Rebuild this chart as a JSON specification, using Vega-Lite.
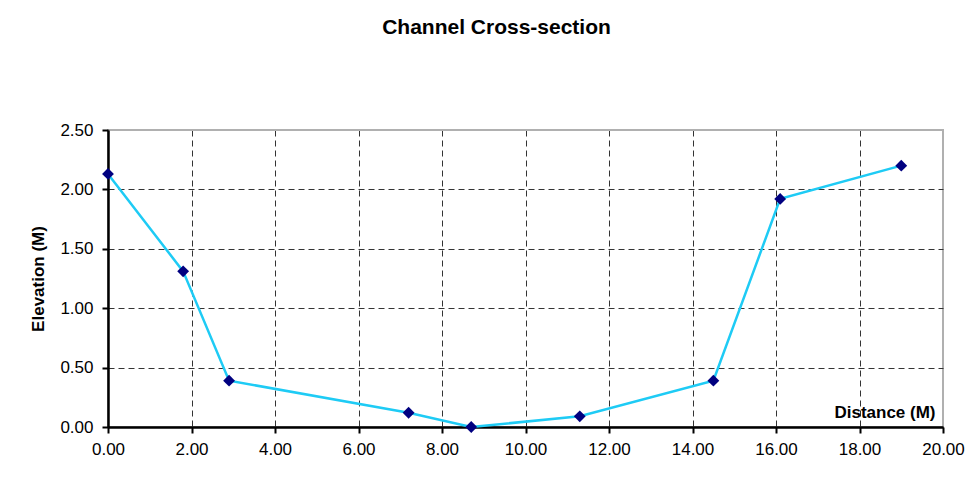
{
  "$schema": "https://vega.github.io/schema/vega-lite/v6.json",
  "autosize": {"type": "none"},
  "width": 835,
  "height": 297,
  "padding": {"left": 108, "top": 130, "right": 37, "bottom": 73},
  "background": "white",
  "title": {
    "text": "Channel Cross-section",
    "font": "Liberation Sans",
    "fontSize": 21,
    "fontWeight": "bold",
    "color": "black",
    "anchor": "middle",
    "dx": -29,
    "offset": 62,
    "baseline": "bottom"
  },
  "config": {
    "view": {"stroke": "#b0b0b0", "strokeWidth": 2},
    "axis": {
      "labelFont": "Liberation Sans",
      "labelFontSize": 17,
      "labelColor": "black",
      "titleFont": "Liberation Sans",
      "titleFontSize": 17,
      "titleFontWeight": "bold",
      "titleColor": "black",
      "domainColor": "black",
      "domainWidth": 2.5,
      "tickColor": "black",
      "tickWidth": 2,
      "tickSize": 6,
      "gridWidth": 1
    }
  },
  "data": {
    "values": [
      {"distance": 0.0, "elevation": 2.13},
      {"distance": 1.8, "elevation": 1.31},
      {"distance": 2.9, "elevation": 0.39},
      {"distance": 7.2, "elevation": 0.12},
      {"distance": 8.7, "elevation": 0.0},
      {"distance": 11.3, "elevation": 0.09},
      {"distance": 14.5, "elevation": 0.39},
      {"distance": 16.1, "elevation": 1.92},
      {"distance": 19.0, "elevation": 2.2}
    ]
  },
  "encoding": {
    "x": {
      "field": "distance",
      "type": "quantitative",
      "scale": {"domain": [0, 20], "nice": false, "zero": false},
      "axis": {
        "title": "Distance (M)",
        "values": [0, 2, 4, 6, 8, 10, 12, 14, 16, 18, 20],
        "format": ".2f",
        "labelPadding": 8,
        "labelFlush": false,
        "gridColor": {"condition": {"test": "datum.value == 20", "value": "#b0b0b0"}, "value": "#333333"},
        "gridDash": {"condition": {"test": "datum.value == 20", "value": []}, "value": [6, 4]},
        "titleAnchor": "end",
        "titleAlign": "right",
        "titleBaseline": "bottom",
        "titleX": 827,
        "titleY": -6
      }
    },
    "y": {
      "field": "elevation",
      "type": "quantitative",
      "scale": {"domain": [0, 2.5], "nice": false},
      "axis": {
        "title": "Elevation (M)",
        "values": [0, 0.5, 1, 1.5, 2, 2.5],
        "format": ".2f",
        "labelPadding": 9,
        "titlePadding": 12,
        "gridColor": {"condition": {"test": "datum.value == 2.5", "value": "#b0b0b0"}, "value": "#333333"},
        "gridDash": {"condition": {"test": "datum.value == 2.5", "value": []}, "value": [6, 4]}
      }
    }
  },
  "layer": [
    {
      "mark": {"type": "line", "color": "#1ECBF5", "strokeWidth": 2.5}
    },
    {
      "mark": {"type": "point", "shape": "diamond", "filled": true, "color": "#000080", "opacity": 1, "size": 140}
    }
  ]
}
